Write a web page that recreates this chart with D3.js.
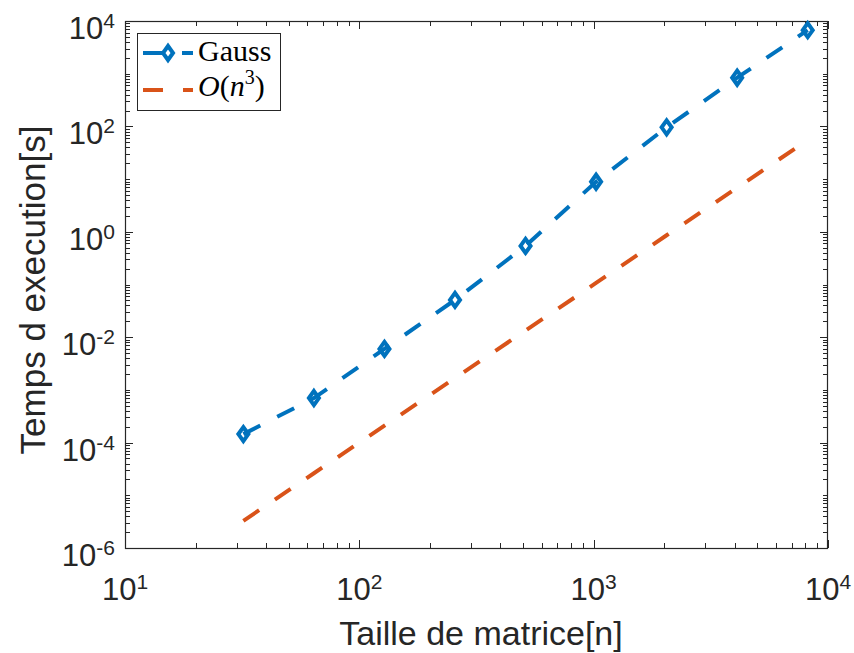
<!DOCTYPE html>
<html><head><meta charset="utf-8">
<script src="https://cdn.jsdelivr.net/npm/d3@7"></script>
<style>body{margin:0;background:#fff}svg{display:block}</style>
</head><body><svg id="c" width="854" height="653"></svg>
<script>
// ---- data ----
const sizes = [32, 64, 128, 256, 512, 1024, 2048, 4096, 8192];
const gaussTimes = [1.45e-4, 7.0e-4, 6.0e-3, 5.1e-2, 5.4e-1, 8.9, 96, 840, 6700];
const cubicRef = [3.28e-6, 2.62e-5, 2.10e-4, 1.68e-3, 1.34e-2, 0.107, 0.859, 6.87, 55.0];
const xTickExps = [1, 2, 3, 4];
const yTickExps = [-6, -4, -2, 0, 2, 4];
const xLabel = "Taille de matrice[n]";
const yLabel = "Temps d execution[s]";
const legendGauss = "Gauss";

const W = 854, H = 653;
const m = {l: 125, r: 828, t: 21, b: 548};
const axisCol = "#262626";
const blue = "#0072BD", orange = "#D95319";
const svg = d3.select("#c");

const x = d3.scaleLog().domain([1e1, 1e4]).range([m.l, m.r]);
const y = d3.scaleLog().domain([1e-6, 1e4]).range([m.b, m.t]);

const g = svg.append("g");

// minor / major ticks
function tickVals(lo, hi) {
  const out = [];
  for (let e = lo; e < hi; e++) for (let k = 1; k < 10; k++) out.push({v: k * Math.pow(10, e), k, e});
  out.push({v: Math.pow(10, hi), k: 1, e: hi});
  return out;
}
const xt = tickVals(1, 4), yt = tickVals(-6, 4);
const tickG = g.append("g").attr("stroke", axisCol).attr("stroke-width", 1);
xt.forEach(t => {
  const px = Math.round(x(t.v)) + 0.5;
  const len = (t.k === 1) ? 8 : 5;
  tickG.append("line").attr("x1", px).attr("x2", px).attr("y1", m.b).attr("y2", m.b - len);
  tickG.append("line").attr("x1", px).attr("x2", px).attr("y1", m.t).attr("y2", m.t + len);
});
yt.forEach(t => {
  const py = Math.round(y(t.v)) + 0.5;
  const major = t.k === 1 && yTickExps.includes(t.e);
  const len = major ? 8 : 5;
  tickG.append("line").attr("y1", py).attr("y2", py).attr("x1", m.l).attr("x2", m.l + len);
  tickG.append("line").attr("y1", py).attr("y2", py).attr("x1", m.r).attr("x2", m.r - len);
});

// box
g.append("rect").attr("x", m.l + 0.5).attr("y", m.t + 0.5)
  .attr("width", m.r - m.l - 1).attr("height", m.b - m.t)
  .attr("fill", "none").attr("stroke", axisCol).attr("stroke-width", 1.2);

// tick labels
const font = "'Liberation Sans', Arial, Helvetica, sans-serif";
xTickExps.forEach(e => {
  const t = g.append("text").attr("x", x(Math.pow(10, e))).attr("y", 600)
    .attr("text-anchor", "middle").attr("font-family", font).attr("fill", axisCol)
    .attr("font-size", 31);
  t.append("tspan").text("10");
  t.append("tspan").attr("font-size", 21).attr("dy", -11).text(String(e));
});
yTickExps.forEach(e => {
  const t = g.append("text").attr("x", 115).attr("y", y(Math.pow(10, e)) + 18)
    .attr("text-anchor", "end").attr("font-family", font).attr("fill", axisCol)
    .attr("font-size", 31);
  t.append("tspan").text("10");
  t.append("tspan").attr("font-size", 21).attr("dy", -11).text(e < 0 ? "-" + Math.abs(e) : String(e));
});

// axis labels
g.append("text").attr("x", 481).attr("y", 645).attr("text-anchor", "middle")
  .attr("font-family", font).attr("font-size", 34).attr("fill", axisCol).text(xLabel);
g.append("text").attr("transform", "translate(45,290) rotate(-90)").attr("text-anchor", "middle")
  .attr("font-family", font).attr("font-size", 35).attr("fill", axisCol).text(yLabel);

// lines
const line = d3.line().x(d => x(d[0])).y(d => y(d[1]));
const gaussData = sizes.map((s, i) => [s, gaussTimes[i]]);
const cubicData = sizes.map((s, i) => [s, cubicRef[i]]);
const plot = g.append("g");
plot.append("path").datum(cubicData).attr("d", line).attr("fill", "none")
  .attr("stroke", orange).attr("stroke-width", 4).attr("stroke-dasharray", "19,19");
plot.append("path").datum(gaussData).attr("d", line).attr("fill", "none")
  .attr("stroke", blue).attr("stroke-width", 4).attr("stroke-dasharray", "19,19");
const diamond = (cx, cy) => `M${cx},${cy - 7}L${cx + 5},${cy}L${cx},${cy + 7}L${cx - 5},${cy}Z`;
plot.selectAll("path.mk").data(gaussData).enter().append("path").attr("class", "mk")
  .attr("d", d => diamond(x(d[0]), y(d[1]))).attr("fill", "none")
  .attr("stroke", blue).attr("stroke-width", 4);

// legend
const lg = g.append("g");
lg.append("rect").attr("x", 137.5).attr("y", 33.5).attr("width", 143).attr("height", 77)
  .attr("fill", "#fff").attr("stroke", axisCol).attr("stroke-width", 1);
lg.append("line").attr("x1", 143).attr("x2", 193).attr("y1", 53).attr("y2", 53)
  .attr("stroke", blue).attr("stroke-width", 4).attr("stroke-dasharray", "21,18");
lg.append("path").attr("d", diamond(168, 53)).attr("fill", "none").attr("stroke", blue).attr("stroke-width", 4);
lg.append("line").attr("x1", 143).attr("x2", 193).attr("y1", 90).attr("y2", 90)
  .attr("stroke", orange).attr("stroke-width", 4).attr("stroke-dasharray", "20,20");
const serif = "'Liberation Serif', 'DejaVu Serif', serif";
lg.append("text").attr("x", 198).attr("y", 61).attr("font-family", serif).attr("font-size", 30)
  .attr("fill", "#000").text(legendGauss);
const ot = lg.append("text").attr("x", 198).attr("y", 96).attr("font-family", serif).attr("font-size", 30).attr("fill", "#000");
ot.append("tspan").attr("font-style", "italic").text("O");
ot.append("tspan").text("(");
ot.append("tspan").attr("font-style", "italic").text("n");
ot.append("tspan").attr("font-size", 20).attr("dy", -12).text("3");
ot.append("tspan").attr("dy", 12).text(")");
</script></body></html>
